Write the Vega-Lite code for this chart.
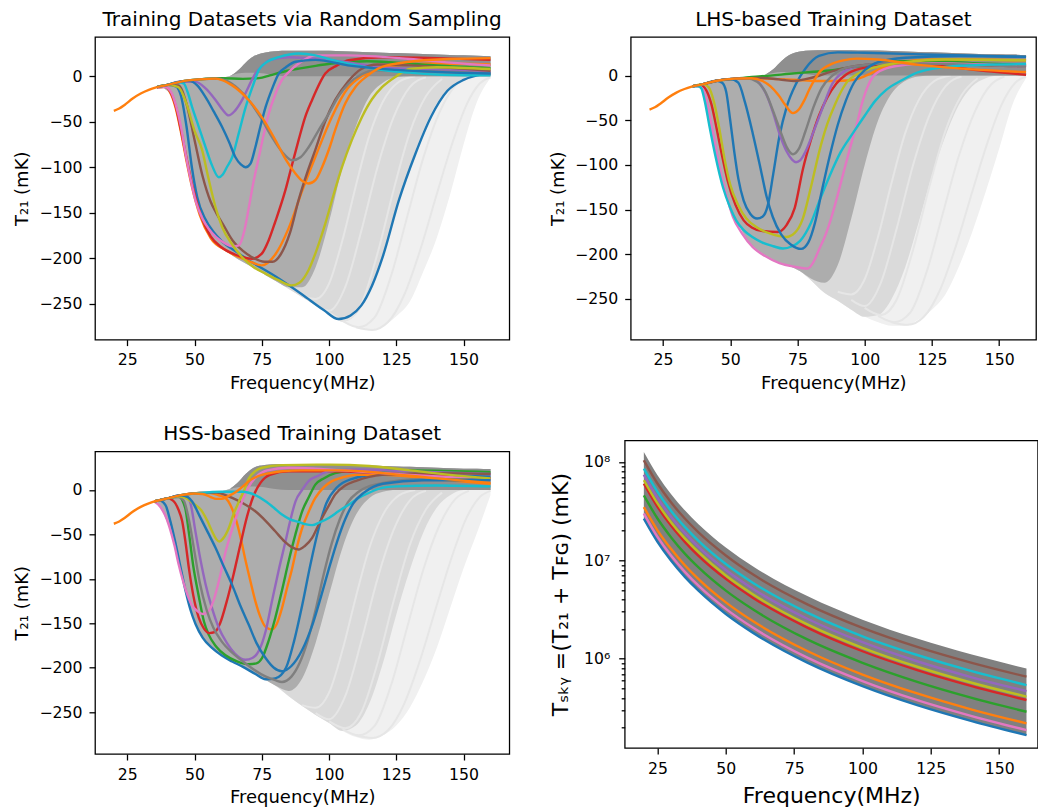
{
"$schema":"https://vega.github.io/schema/vega-lite/v6.json",
"autosize":{"type":"pad"},
"padding":{"left":13,"top":9,"right":0,"bottom":0},
"config":{
"font":"DejaVu Sans",
"view":{"stroke":"black","strokeWidth":1.28},
"axis":{"grid":false,"domain":false,"tickColor":"black","tickWidth":1.28,"tickSize":6,"labelColor":"black","titleColor":"black","labelFont":"DejaVu Sans","titleFont":"DejaVu Sans","labelFontSize":15.7,"titleFontSize":18,"titleFontWeight":"normal","labelPadding":7,"labelFlush":false,"labelOverlap":false},
"axisY":{"titlePadding":7},
"axisX":{"titlePadding":7},
"title":{"font":"DejaVu Sans","fontSize":20,"fontWeight":"normal","color":"black","anchor":"middle","baseline":"bottom","offset":6.6}
},
"datasets":{
"cs":[{"x":20,"y":-38},{"x":22,"y":-35.5},{"x":24,"y":-31.5},{"x":27,"y":-24.5},{"x":30,"y":-19},{"x":33,"y":-15},{"x":36,"y":-12}],
"tl":[
{"s":"a","x":95,"y":-251},{"s":"a","x":100,"y":-258},{"s":"a","x":106,"y":-232},{"s":"a","x":112,"y":-170},{"s":"a","x":118,"y":-100},{"s":"a","x":124,"y":-45},{"s":"a","x":130,"y":-12},{"s":"a","x":136,"y":-1},
{"s":"b","x":100,"y":-260},{"s":"b","x":106,"y":-268},{"s":"b","x":112,"y":-250},{"s":"b","x":118,"y":-195},{"s":"b","x":124,"y":-125},{"s":"b","x":130,"y":-62},{"s":"b","x":136,"y":-22},{"s":"b","x":142,"y":-3},
{"s":"c","x":105,"y":-269},{"s":"c","x":111,"y":-276},{"s":"c","x":117,"y":-265},{"s":"c","x":123,"y":-220},{"s":"c","x":129,"y":-155},{"s":"c","x":135,"y":-90},{"s":"c","x":141,"y":-40},{"s":"c","x":147,"y":-10},{"s":"c","x":152,"y":-1},
{"s":"d","x":110,"y":-276},{"s":"d","x":116,"y":-279},{"s":"d","x":122,"y":-270},{"s":"d","x":128,"y":-240},{"s":"d","x":134,"y":-190},{"s":"d","x":140,"y":-130},{"s":"d","x":146,"y":-72},{"s":"d","x":151,"y":-32},{"s":"d","x":156,"y":-8},{"s":"d","x":160,"y":-1},
{"s":"e","x":90,"y":-242},{"s":"e","x":95,"y":-245},{"s":"e","x":100,"y":-228},{"s":"e","x":105,"y":-180},{"s":"e","x":110,"y":-120},{"s":"e","x":115,"y":-65},{"s":"e","x":120,"y":-28},{"s":"e","x":126,"y":-6},{"s":"e","x":132,"y":0}],
"e1":[
{"x":37,"L":-11.3,"M":-11.3,"D":-11.3,"B":-11.3,"U":-11.3},{"x":39,"L":-14,"M":-14,"D":-14,"B":-9.8,"U":-9.8},{"x":41,"L":-20,"M":-20,"D":-20,"B":-8.3,"U":-8.3},{"x":43,"L":-35,"M":-35,"D":-35,"B":-7,"U":-7},{"x":45,"L":-63,"M":-63,"D":-63,"B":-5.8,"U":-5.8},{"x":47,"L":-93,"M":-93,"D":-93,"B":-4.9,"U":-4.9},{"x":49,"L":-121,"M":-121,"D":-121,"B":-4.2,"U":-4.2},{"x":51,"L":-142,"M":-142,"D":-142,"B":-3.6,"U":-3.6},{"x":53,"L":-158,"M":-158,"D":-158,"B":-3.1,"U":-3.1},{"x":56,"L":-178,"M":-178,"D":-178,"B":-2.5,"U":-2.5},{"x":60,"L":-189,"M":-189,"D":-189,"B":-1.5,"U":-1.5},{"x":63,"L":-195,"M":-195,"D":-195,"B":0,"U":0},{"x":66,"L":-201,"M":-201,"D":-201,"B":3,"U":6},{"x":69,"L":-206,"M":-206,"D":-206,"B":4,"U":15},{"x":72,"L":-211,"M":-211,"D":-211,"B":4,"U":22},{"x":76,"L":-218,"M":-218,"D":-218,"B":3,"U":26},{"x":80,"L":-225,"M":-225,"D":-225,"B":1,"U":27.5},{"x":85,"L":-234,"M":-234,"D":-232,"B":0,"U":28},{"x":90,"L":-243,"M":-243,"D":-232,"B":0,"U":28},{"x":95,"L":-252,"M":-252,"D":-210,"B":0,"U":28},{"x":100,"L":-261,"M":-261,"D":-160,"B":0,"U":28},{"x":105,"L":-270,"M":-270,"D":-100,"B":0,"U":27.5},{"x":110,"L":-276,"M":-262,"D":-55,"B":0,"U":27},{"x":115,"L":-279,"M":-238,"D":-22,"B":0,"U":26.5},{"x":120,"L":-275,"M":-198,"D":-7,"B":0,"U":26},{"x":125,"L":-264,"M":-145,"D":-1,"B":0,"U":25.5},{"x":130,"L":-248,"M":-100,"D":0,"B":0,"U":25},{"x":135,"L":-215,"M":-60,"D":0,"B":0,"U":24.5},{"x":140,"L":-178,"M":-30,"D":0,"B":0,"U":24},{"x":145,"L":-130,"M":-12,"D":0,"B":0,"U":23.5},{"x":150,"L":-75,"M":-4,"D":0,"B":0,"U":23},{"x":155,"L":-28,"M":0,"D":0,"B":0,"U":22.5},{"x":160,"L":-2,"M":0,"D":0,"B":0,"U":22}],
"e2":[
{"x":37,"L":-11.3,"M":-11.3,"D":-11.3,"B":-11.3,"U":-11.3},{"x":39,"L":-14,"M":-14,"D":-14,"B":-9.8,"U":-9.8},{"x":41,"L":-38,"M":-38,"D":-38,"B":-8.3,"U":-8.3},{"x":43,"L":-65,"M":-65,"D":-65,"B":-7,"U":-7},{"x":45,"L":-96,"M":-96,"D":-96,"B":-5.8,"U":-5.8},{"x":47,"L":-123,"M":-123,"D":-123,"B":-4.9,"U":-4.9},{"x":49,"L":-141,"M":-141,"D":-141,"B":-4.2,"U":-4.2},{"x":51,"L":-155,"M":-155,"D":-155,"B":-3.6,"U":-3.6},{"x":53,"L":-166,"M":-166,"D":-166,"B":-3.1,"U":-3.1},{"x":56,"L":-182,"M":-182,"D":-182,"B":-2.5,"U":-2.5},{"x":60,"L":-195,"M":-195,"D":-195,"B":-1.5,"U":-1.5},{"x":63,"L":-201,"M":-201,"D":-201,"B":1,"U":1},{"x":66,"L":-206,"M":-206,"D":-206,"B":3,"U":7},{"x":69,"L":-210,"M":-210,"D":-210,"B":4,"U":16},{"x":72,"L":-213,"M":-213,"D":-213,"B":4,"U":23},{"x":76,"L":-219,"M":-219,"D":-219,"B":3,"U":27},{"x":80,"L":-229,"M":-229,"D":-227,"B":1,"U":28},{"x":85,"L":-243,"M":-243,"D":-232,"B":0,"U":28.5},{"x":90,"L":-252,"M":-252,"D":-212,"B":0,"U":28.5},{"x":95,"L":-262,"M":-262,"D":-160,"B":0,"U":28.5},{"x":100,"L":-270,"M":-270,"D":-100,"B":0,"U":28},{"x":105,"L":-276,"M":-268,"D":-50,"B":0,"U":28},{"x":110,"L":-280,"M":-250,"D":-20,"B":0,"U":27.5},{"x":115,"L":-280,"M":-215,"D":-6,"B":0,"U":27},{"x":120,"L":-273,"M":-165,"D":-1,"B":0,"U":26.5},{"x":125,"L":-262,"M":-112,"D":0,"B":0,"U":26},{"x":130,"L":-245,"M":-68,"D":0,"B":0,"U":25.5},{"x":135,"L":-214,"M":-33,"D":0,"B":0,"U":25},{"x":140,"L":-175,"M":-12,"D":0,"B":0,"U":24.5},{"x":145,"L":-130,"M":-3,"D":0,"B":0,"U":24},{"x":150,"L":-82,"M":0,"D":0,"B":0,"U":24},{"x":155,"L":-32,"M":0,"D":0,"B":0,"U":23.5},{"x":160,"L":-3,"M":0,"D":0,"B":0,"U":23}],
"e3":[
{"x":35,"L":-13,"M":-13,"D":-13,"B":-13,"U":-13},{"x":37,"L":-18,"M":-18,"D":-18,"B":-11.3,"U":-11.3},{"x":39,"L":-30,"M":-30,"D":-30,"B":-9.8,"U":-9.8},{"x":41,"L":-46,"M":-46,"D":-46,"B":-8.3,"U":-8.3},{"x":43,"L":-68,"M":-68,"D":-68,"B":-7,"U":-7},{"x":45,"L":-95,"M":-95,"D":-95,"B":-5.8,"U":-5.8},{"x":47,"L":-120,"M":-120,"D":-120,"B":-4.9,"U":-4.9},{"x":49,"L":-139,"M":-139,"D":-139,"B":-4.2,"U":-4.2},{"x":51,"L":-154,"M":-154,"D":-154,"B":-3.6,"U":-3.6},{"x":53,"L":-166,"M":-166,"D":-166,"B":-3.1,"U":-3.1},{"x":56,"L":-177,"M":-177,"D":-177,"B":-2.5,"U":-2.5},{"x":60,"L":-186,"M":-186,"D":-186,"B":-1.5,"U":-1.5},{"x":63,"L":-191,"M":-191,"D":-191,"B":1,"U":1},{"x":66,"L":-196,"M":-196,"D":-196,"B":3,"U":8},{"x":69,"L":-201,"M":-201,"D":-201,"B":4,"U":18},{"x":72,"L":-206,"M":-206,"D":-206,"B":4,"U":25},{"x":76,"L":-213,"M":-213,"D":-213,"B":3,"U":28},{"x":80,"L":-220,"M":-220,"D":-220,"B":1,"U":29},{"x":85,"L":-232,"M":-232,"D":-226,"B":0,"U":29},{"x":90,"L":-243,"M":-243,"D":-212,"B":0,"U":29},{"x":95,"L":-253,"M":-253,"D":-172,"B":0,"U":29},{"x":100,"L":-262,"M":-262,"D":-118,"B":0,"U":28.5},{"x":105,"L":-271,"M":-271,"D":-65,"B":0,"U":28.5},{"x":110,"L":-278,"M":-265,"D":-28,"B":0,"U":28},{"x":115,"L":-281,"M":-240,"D":-9,"B":0,"U":27.5},{"x":120,"L":-276,"M":-195,"D":-2,"B":0,"U":27},{"x":125,"L":-265,"M":-140,"D":0,"B":0,"U":26.5},{"x":130,"L":-245,"M":-90,"D":0,"B":0,"U":26},{"x":135,"L":-215,"M":-48,"D":0,"B":0,"U":25.5},{"x":140,"L":-178,"M":-20,"D":0,"B":0,"U":25},{"x":145,"L":-133,"M":-6,"D":0,"B":0,"U":24.5},{"x":150,"L":-88,"M":0,"D":0,"B":0,"U":24},{"x":155,"L":-48,"M":0,"D":0,"B":0,"U":24},{"x":160,"L":-6,"M":0,"D":0,"B":0,"U":23.5}],
"c1":[
{"s":"a","x":36,"y":-12},{"s":"a","x":40,"y":-9.5},{"s":"a","x":43,"y":-11},{"s":"a","x":45,"y":-22},{"s":"a","x":47,"y":-55},{"s":"a","x":49,"y":-100},{"s":"a","x":51,"y":-133},{"s":"a","x":54,"y":-157},{"s":"a","x":57,"y":-171},{"s":"a","x":60,"y":-181},{"s":"a","x":65,"y":-192},{"s":"a","x":70,"y":-202},{"s":"a","x":80,"y":-220},{"s":"a","x":90,"y":-240},{"s":"a","x":98,"y":-257},{"s":"a","x":103.5,"y":-267},{"s":"a","x":108,"y":-263},{"s":"a","x":112,"y":-252},{"s":"a","x":116,"y":-230},{"s":"a","x":120,"y":-198},{"s":"a","x":126,"y":-136},{"s":"a","x":132,"y":-86},{"s":"a","x":138,"y":-44},{"s":"a","x":144,"y":-16},{"s":"a","x":150,"y":-4},{"s":"a","x":155,"y":1},{"s":"a","x":160,"y":3},
{"s":"b","x":36,"y":-12},{"s":"b","x":39,"y":-11.5},{"s":"b","x":41,"y":-18},{"s":"b","x":43,"y":-35},{"s":"b","x":45,"y":-62},{"s":"b","x":47,"y":-93},{"s":"b","x":49,"y":-121},{"s":"b","x":52,"y":-153},{"s":"b","x":56,"y":-178},{"s":"b","x":62,"y":-192},{"s":"b","x":70,"y":-203},{"s":"b","x":75,"y":-208},{"s":"b","x":80,"y":-196},{"s":"b","x":85,"y":-167},{"s":"b","x":90,"y":-126},{"s":"b","x":95,"y":-88},{"s":"b","x":101,"y":-45},{"s":"b","x":107,"y":-13},{"s":"b","x":112,"y":0},{"s":"b","x":117,"y":7},{"s":"b","x":125,"y":12},{"s":"b","x":140,"y":14},{"s":"b","x":160,"y":13},
{"s":"c","x":36,"y":-12},{"s":"c","x":40,"y":-9.5},{"s":"c","x":45,"y":-5.8},{"s":"c","x":52,"y":-3.4},{"s":"c","x":60,"y":-2.2},{"s":"c","x":68,"y":-2.8},{"s":"c","x":74,"y":-2},{"s":"c","x":78,"y":1},{"s":"c","x":83,"y":5},{"s":"c","x":88.7,"y":8.4},{"s":"c","x":95,"y":11.5},{"s":"c","x":101,"y":14},{"s":"c","x":108,"y":16},{"s":"c","x":114,"y":16.5},{"s":"c","x":125,"y":15},{"s":"c","x":140,"y":12},{"s":"c","x":160,"y":9},
{"s":"d","x":36,"y":-12},{"s":"d","x":39,"y":-11.5},{"s":"d","x":41,"y":-17},{"s":"d","x":43,"y":-33},{"s":"d","x":45,"y":-60},{"s":"d","x":47,"y":-90},{"s":"d","x":49,"y":-118},{"s":"d","x":52,"y":-150},{"s":"d","x":56,"y":-176},{"s":"d","x":60,"y":-188},{"s":"d","x":65,"y":-196},{"s":"d","x":71.4,"y":-200.6},{"s":"d","x":75,"y":-195},{"s":"d","x":77.6,"y":-180},{"s":"d","x":80,"y":-160},{"s":"d","x":83.8,"y":-125},{"s":"d","x":86,"y":-100},{"s":"d","x":88.7,"y":-70},{"s":"d","x":91,"y":-46},{"s":"d","x":93.7,"y":-26},{"s":"d","x":98.6,"y":3},{"s":"d","x":103,"y":12},{"s":"d","x":107.3,"y":17.6},{"s":"d","x":119.7,"y":21},{"s":"d","x":140,"y":20},{"s":"d","x":160,"y":18},
{"s":"e","x":36,"y":-12},{"s":"e","x":40,"y":-9.5},{"s":"e","x":45,"y":-5.8},{"s":"e","x":50.4,"y":-6.2},{"s":"e","x":54,"y":-13},{"s":"e","x":57.8,"y":-26},{"s":"e","x":60.5,"y":-37},{"s":"e","x":62.7,"y":-43},{"s":"e","x":65,"y":-38},{"s":"e","x":67.7,"y":-26},{"s":"e","x":70,"y":-12},{"s":"e","x":72.6,"y":3},{"s":"e","x":75,"y":11},{"s":"e","x":77.6,"y":17.6},{"s":"e","x":85,"y":21},{"s":"e","x":101,"y":17.6},{"s":"e","x":119.7,"y":10},{"s":"e","x":140,"y":7},{"s":"e","x":160,"y":5},
{"s":"f","x":36,"y":-12},{"s":"f","x":40,"y":-9.5},{"s":"f","x":44,"y":-10},{"s":"f","x":47,"y":-30},{"s":"f","x":50,"y":-70},{"s":"f","x":53,"y":-110},{"s":"f","x":56,"y":-138},{"s":"f","x":58,"y":-150},{"s":"f","x":61,"y":-165},{"s":"f","x":64,"y":-180},{"s":"f","x":68,"y":-192},{"s":"f","x":72,"y":-200},{"s":"f","x":76,"y":-204},{"s":"f","x":79,"y":-204},{"s":"f","x":82,"y":-196},{"s":"f","x":85.5,"y":-172},{"s":"f","x":88.7,"y":-136},{"s":"f","x":92,"y":-105},{"s":"f","x":94.9,"y":-81},{"s":"f","x":98.5,"y":-50},{"s":"f","x":102.3,"y":-26},{"s":"f","x":107,"y":-6},{"s":"f","x":112,"y":8},{"s":"f","x":118,"y":13},{"s":"f","x":130,"y":12},{"s":"f","x":160,"y":6},
{"s":"g","x":36,"y":-12},{"s":"g","x":39,"y":-11.5},{"s":"g","x":41,"y":-16},{"s":"g","x":43,"y":-31},{"s":"g","x":45,"y":-56},{"s":"g","x":46.7,"y":-86},{"s":"g","x":48.5,"y":-113},{"s":"g","x":50.4,"y":-137},{"s":"g","x":53,"y":-157},{"s":"g","x":55.3,"y":-168},{"s":"g","x":58,"y":-177},{"s":"g","x":61.5,"y":-184},{"s":"g","x":64,"y":-187},{"s":"g","x":66.5,"y":-186},{"s":"g","x":68.5,"y":-170},{"s":"g","x":70.2,"y":-144},{"s":"g","x":72,"y":-115},{"s":"g","x":73.9,"y":-89},{"s":"g","x":75.8,"y":-63},{"s":"g","x":77.6,"y":-41},{"s":"g","x":80,"y":-20},{"s":"g","x":82.5,"y":-4},{"s":"g","x":85.5,"y":6},{"s":"g","x":88.7,"y":14},{"s":"g","x":94.9,"y":23},{"s":"g","x":107,"y":23},{"s":"g","x":130,"y":19},{"s":"g","x":145,"y":15},{"s":"g","x":160,"y":12},
{"s":"h","x":36,"y":-12},{"s":"h","x":40,"y":-9.5},{"s":"h","x":45,"y":-5.8},{"s":"h","x":52,"y":-3.4},{"s":"h","x":58,"y":-2.5},{"s":"h","x":61.5,"y":-4.4},{"s":"h","x":66,"y":-13},{"s":"h","x":70.2,"y":-26.4},{"s":"h","x":74.5,"y":-45},{"s":"h","x":78.8,"y":-67},{"s":"h","x":82.5,"y":-83},{"s":"h","x":86.3,"y":-92.4},{"s":"h","x":89.4,"y":-89},{"s":"h","x":92.4,"y":-78},{"s":"h","x":96,"y":-60},{"s":"h","x":99.9,"y":-41},{"s":"h","x":103.5,"y":-22},{"s":"h","x":107.3,"y":-8},{"s":"h","x":112,"y":2},{"s":"h","x":117.2,"y":6.6},{"s":"h","x":130,"y":6},{"s":"h","x":160,"y":3},
{"s":"i","x":36,"y":-12},{"s":"i","x":40,"y":-9.5},{"s":"i","x":44,"y":-12},{"s":"i","x":47,"y":-30},{"s":"i","x":50,"y":-60},{"s":"i","x":52.8,"y":-81},{"s":"i","x":55,"y":-110},{"s":"i","x":57.8,"y":-144},{"s":"i","x":60.3,"y":-166},{"s":"i","x":64,"y":-185},{"s":"i","x":67.7,"y":-199},{"s":"i","x":72,"y":-210},{"s":"i","x":76.4,"y":-217},{"s":"i","x":81,"y":-224},{"s":"i","x":86,"y":-230},{"s":"i","x":89,"y":-227},{"s":"i","x":92.4,"y":-213},{"s":"i","x":95.5,"y":-190},{"s":"i","x":98.6,"y":-162},{"s":"i","x":101.7,"y":-130},{"s":"i","x":104.8,"y":-100},{"s":"i","x":108.5,"y":-70},{"s":"i","x":112.2,"y":-45},{"s":"i","x":116,"y":-25},{"s":"i","x":119.7,"y":-12},{"s":"i","x":125,"y":0},{"s":"i","x":130,"y":8},{"s":"i","x":140,"y":10},{"s":"i","x":160,"y":8},
{"s":"j","x":36,"y":-12},{"s":"j","x":40,"y":-9.5},{"s":"j","x":44,"y":-6.5},{"s":"j","x":46,"y":-8},{"s":"j","x":47.5,"y":-18},{"s":"j","x":49.1,"y":-34},{"s":"j","x":51.5,"y":-55},{"s":"j","x":54.1,"y":-78},{"s":"j","x":56.5,"y":-98},{"s":"j","x":59,"y":-111},{"s":"j","x":60.5,"y":-108},{"s":"j","x":62,"y":-100},{"s":"j","x":64,"y":-89},{"s":"j","x":66.5,"y":-62},{"s":"j","x":69,"y":-34},{"s":"j","x":71.5,"y":-12},{"s":"j","x":73.9,"y":7},{"s":"j","x":77,"y":16},{"s":"j","x":81.3,"y":21},{"s":"j","x":88.7,"y":25},{"s":"j","x":95,"y":23},{"s":"j","x":101,"y":18},{"s":"j","x":107,"y":14},{"s":"j","x":113.5,"y":10},{"s":"j","x":122,"y":6},{"s":"j","x":130,"y":4},{"s":"j","x":140,"y":2},{"s":"j","x":160,"y":1},
{"s":"k","x":36,"y":-12},{"s":"k","x":40,"y":-9.5},{"s":"k","x":45,"y":-5.8},{"s":"k","x":48,"y":-5},{"s":"k","x":51,"y":-10},{"s":"k","x":54.1,"y":-23},{"s":"k","x":57,"y":-38},{"s":"k","x":60.3,"y":-56},{"s":"k","x":62.8,"y":-72},{"s":"k","x":65.2,"y":-89},{"s":"k","x":67.2,"y":-97},{"s":"k","x":69,"y":-100},{"s":"k","x":70.8,"y":-96},{"s":"k","x":72.6,"y":-78},{"s":"k","x":74.5,"y":-55},{"s":"k","x":76.4,"y":-34},{"s":"k","x":78.8,"y":-14},{"s":"k","x":81.3,"y":3},{"s":"k","x":84,"y":10},{"s":"k","x":87.5,"y":16},{"s":"k","x":94.9,"y":18},{"s":"k","x":107,"y":12},{"s":"k","x":125,"y":7},{"s":"k","x":160,"y":3},
{"s":"l","x":36,"y":-12},{"s":"l","x":40,"y":-9.5},{"s":"l","x":45,"y":-5.8},{"s":"l","x":52,"y":-3.4},{"s":"l","x":57.8,"y":-2.6},{"s":"l","x":64,"y":-10},{"s":"l","x":70.2,"y":-26.4},{"s":"l","x":75,"y":-45},{"s":"l","x":80.1,"y":-70.4},{"s":"l","x":84,"y":-92},{"s":"l","x":87.5,"y":-107},{"s":"l","x":90,"y":-115},{"s":"l","x":92.4,"y":-118},{"s":"l","x":95,"y":-114},{"s":"l","x":97.4,"y":-100},{"s":"l","x":100,"y":-80},{"s":"l","x":102.3,"y":-59},{"s":"l","x":106,"y":-30},{"s":"l","x":109.8,"y":-11.7},{"s":"l","x":114,"y":0},{"s":"l","x":119.7,"y":10.3},{"s":"l","x":130,"y":16},{"s":"l","x":145,"y":19},{"s":"l","x":160,"y":20}],
"c2":[
{"s":"a","x":36,"y":-12},{"s":"a","x":40,"y":-9.5},{"s":"a","x":45,"y":-5.8},{"s":"a","x":47,"y":-8},{"s":"a","x":48.5,"y":-18},{"s":"a","x":50,"y":-50},{"s":"a","x":51.5,"y":-85},{"s":"a","x":53,"y":-115},{"s":"a","x":55,"y":-140},{"s":"a","x":57.5,"y":-155},{"s":"a","x":60,"y":-160},{"s":"a","x":62,"y":-158},{"s":"a","x":64,"y":-145},{"s":"a","x":66,"y":-110},{"s":"a","x":68.3,"y":-68},{"s":"a","x":71,"y":-35},{"s":"a","x":74.5,"y":-9},{"s":"a","x":78,"y":8},{"s":"a","x":83,"y":22},{"s":"a","x":90,"y":26},{"s":"a","x":100,"y":25.5},{"s":"a","x":130,"y":23},{"s":"a","x":160,"y":21},
{"s":"b","x":36,"y":-12},{"s":"b","x":40,"y":-9.5},{"s":"b","x":45,"y":-5.8},{"s":"b","x":52,"y":-3.4},{"s":"b","x":60,"y":-3},{"s":"b","x":68,"y":-4},{"s":"b","x":75,"y":-5},{"s":"b","x":82,"y":-6},{"s":"b","x":88,"y":-6},{"s":"b","x":94,"y":-5.5},{"s":"b","x":98,"y":-3},{"s":"b","x":102,"y":2},{"s":"b","x":106,"y":8},{"s":"b","x":110,"y":13},{"s":"b","x":116,"y":16},{"s":"b","x":125,"y":18},{"s":"b","x":140,"y":18},{"s":"b","x":160,"y":17},
{"s":"c","x":36,"y":-12},{"s":"c","x":40,"y":-9.5},{"s":"c","x":45,"y":-5.8},{"s":"c","x":52,"y":-3.4},{"s":"c","x":58,"y":-1.5},{"s":"c","x":65,"y":0},{"s":"c","x":72,"y":2},{"s":"c","x":80,"y":4},{"s":"c","x":88,"y":6},{"s":"c","x":95,"y":9},{"s":"c","x":102,"y":12},{"s":"c","x":108,"y":15},{"s":"c","x":115,"y":16},{"s":"c","x":125,"y":16},{"s":"c","x":140,"y":14},{"s":"c","x":160,"y":12},
{"s":"d","x":36,"y":-12},{"s":"d","x":39,"y":-11},{"s":"d","x":41,"y":-16},{"s":"d","x":43,"y":-32},{"s":"d","x":45,"y":-60},{"s":"d","x":47,"y":-90},{"s":"d","x":49,"y":-117},{"s":"d","x":52,"y":-145},{"s":"d","x":55,"y":-162},{"s":"d","x":58,"y":-170},{"s":"d","x":62,"y":-174},{"s":"d","x":67.7,"y":-175},{"s":"d","x":71,"y":-167},{"s":"d","x":74,"y":-148},{"s":"d","x":77,"y":-105},{"s":"d","x":80,"y":-72},{"s":"d","x":83,"y":-45},{"s":"d","x":86,"y":-25},{"s":"d","x":89.4,"y":-9},{"s":"d","x":93,"y":1},{"s":"d","x":100,"y":9},{"s":"d","x":110,"y":14},{"s":"d","x":125,"y":12},{"s":"d","x":145,"y":5},{"s":"d","x":160,"y":1},
{"s":"e","x":36,"y":-12},{"s":"e","x":40,"y":-9.5},{"s":"e","x":45,"y":-5.8},{"s":"e","x":52,"y":-3.4},{"s":"e","x":58,"y":-3},{"s":"e","x":61,"y":-9},{"s":"e","x":64,"y":-25},{"s":"e","x":66,"y":-42},{"s":"e","x":68.3,"y":-65},{"s":"e","x":71,"y":-85},{"s":"e","x":73,"y":-94},{"s":"e","x":74.5,"y":-97},{"s":"e","x":76,"y":-95},{"s":"e","x":78,"y":-85},{"s":"e","x":80.7,"y":-65},{"s":"e","x":84.5,"y":-35},{"s":"e","x":88,"y":-9},{"s":"e","x":92,"y":4},{"s":"e","x":98,"y":11},{"s":"e","x":110,"y":14},{"s":"e","x":160,"y":11},
{"s":"f","x":36,"y":-12},{"s":"f","x":40,"y":-9.5},{"s":"f","x":45,"y":-5.8},{"s":"f","x":52,"y":-3.4},{"s":"f","x":60,"y":-2.5},{"s":"f","x":66,"y":-3.5},{"s":"f","x":70,"y":-5},{"s":"f","x":74,"y":-6},{"s":"f","x":78,"y":-4},{"s":"f","x":82,"y":-1},{"s":"f","x":86,"y":3},{"s":"f","x":92,"y":8},{"s":"f","x":100,"y":12},{"s":"f","x":115,"y":14},{"s":"f","x":140,"y":12},{"s":"f","x":160,"y":10},
{"s":"g","x":36,"y":-12},{"s":"g","x":38,"y":-12},{"s":"g","x":40,"y":-16},{"s":"g","x":41.1,"y":-27},{"s":"g","x":43.5,"y":-62},{"s":"g","x":46,"y":-102},{"s":"g","x":48.5,"y":-133},{"s":"g","x":51,"y":-158},{"s":"g","x":54.5,"y":-177},{"s":"g","x":58.4,"y":-192},{"s":"g","x":63,"y":-202},{"s":"g","x":68.3,"y":-210},{"s":"g","x":74,"y":-214},{"s":"g","x":78.8,"y":-216},{"s":"g","x":80.7,"y":-210},{"s":"g","x":83,"y":-195},{"s":"g","x":85.6,"y":-177},{"s":"g","x":87.5,"y":-160},{"s":"g","x":89.4,"y":-140},{"s":"g","x":92,"y":-110},{"s":"g","x":94.3,"y":-84},{"s":"g","x":97,"y":-55},{"s":"g","x":99.3,"y":-28},{"s":"g","x":101,"y":-13},{"s":"g","x":103,"y":-1.5},{"s":"g","x":107,"y":7},{"s":"g","x":115,"y":12},{"s":"g","x":125,"y":14},{"s":"g","x":160,"y":10},
{"s":"h","x":36,"y":-12},{"s":"h","x":40,"y":-9.5},{"s":"h","x":45,"y":-5.8},{"s":"h","x":52,"y":-3.4},{"s":"h","x":56,"y":-3},{"s":"h","x":60,"y":-7},{"s":"h","x":63,"y":-18},{"s":"h","x":66,"y":-40},{"s":"h","x":69,"y":-65},{"s":"h","x":71,"y":-80},{"s":"h","x":73.3,"y":-88},{"s":"h","x":75.5,"y":-82},{"s":"h","x":78,"y":-62},{"s":"h","x":81,"y":-35},{"s":"h","x":84,"y":-14},{"s":"h","x":88,"y":0},{"s":"h","x":95,"y":10},{"s":"h","x":110,"y":14},{"s":"h","x":160,"y":10},
{"s":"i","x":36,"y":-12},{"s":"i","x":40,"y":-9.5},{"s":"i","x":42,"y":-13},{"s":"i","x":44,"y":-30},{"s":"i","x":46,"y":-60},{"s":"i","x":48,"y":-95},{"s":"i","x":50,"y":-122},{"s":"i","x":53,"y":-145},{"s":"i","x":56,"y":-160},{"s":"i","x":60,"y":-170},{"s":"i","x":65,"y":-177},{"s":"i","x":70.8,"y":-180.6},{"s":"i","x":74,"y":-176},{"s":"i","x":77,"y":-160},{"s":"i","x":80,"y":-125},{"s":"i","x":83.2,"y":-84},{"s":"i","x":86,"y":-55},{"s":"i","x":89,"y":-32},{"s":"i","x":93,"y":-9},{"s":"i","x":98,"y":3},{"s":"i","x":105,"y":10},{"s":"i","x":115,"y":15},{"s":"i","x":130,"y":18},{"s":"i","x":160,"y":17},
{"s":"j","x":36,"y":-12},{"s":"j","x":38,"y":-12},{"s":"j","x":39.2,"y":-14},{"s":"j","x":40.5,"y":-28},{"s":"j","x":42.3,"y":-57},{"s":"j","x":44.5,"y":-90},{"s":"j","x":47.3,"y":-125},{"s":"j","x":50,"y":-148},{"s":"j","x":52.2,"y":-162},{"s":"j","x":55,"y":-173},{"s":"j","x":58.4,"y":-181},{"s":"j","x":62,"y":-187},{"s":"j","x":66,"y":-191},{"s":"j","x":69.6,"y":-193.6},{"s":"j","x":73,"y":-191},{"s":"j","x":76,"y":-185},{"s":"j","x":80,"y":-165},{"s":"j","x":83.2,"y":-140},{"s":"j","x":87,"y":-112},{"s":"j","x":91,"y":-86},{"s":"j","x":95.5,"y":-65},{"s":"j","x":100,"y":-45},{"s":"j","x":104,"y":-28},{"s":"j","x":108,"y":-16},{"s":"j","x":114,"y":-5},{"s":"j","x":120,"y":4},{"s":"j","x":135,"y":11},{"s":"j","x":160,"y":13},
{"s":"k","x":36,"y":-12},{"s":"k","x":40,"y":-9.5},{"s":"k","x":45,"y":-5.8},{"s":"k","x":50,"y":-3.8},{"s":"k","x":53,"y":-8},{"s":"k","x":55.5,"y":-30},{"s":"k","x":58.4,"y":-65},{"s":"k","x":61,"y":-100},{"s":"k","x":63.5,"y":-135},{"s":"k","x":65.8,"y":-158},{"s":"k","x":69,"y":-178},{"s":"k","x":72.5,"y":-189},{"s":"k","x":76.4,"y":-194},{"s":"k","x":79,"y":-187},{"s":"k","x":81.5,"y":-165},{"s":"k","x":84,"y":-130},{"s":"k","x":87,"y":-90},{"s":"k","x":90,"y":-55},{"s":"k","x":93,"y":-28},{"s":"k","x":96,"y":-8},{"s":"k","x":100,"y":6},{"s":"k","x":105,"y":15},{"s":"k","x":115,"y":20},{"s":"k","x":135,"y":22},{"s":"k","x":160,"y":21},
{"s":"l","x":36,"y":-12},{"s":"l","x":40,"y":-9.5},{"s":"l","x":45,"y":-5.8},{"s":"l","x":52,"y":-3.4},{"s":"l","x":58,"y":-3},{"s":"l","x":62,"y":-6},{"s":"l","x":65,"y":-12},{"s":"l","x":68,"y":-22},{"s":"l","x":70.5,"y":-33},{"s":"l","x":73.3,"y":-42},{"s":"l","x":75.5,"y":-38},{"s":"l","x":77.5,"y":-28},{"s":"l","x":79.5,"y":-15},{"s":"l","x":81.5,"y":-4},{"s":"l","x":83.5,"y":5},{"s":"l","x":87,"y":12},{"s":"l","x":92,"y":17},{"s":"l","x":97,"y":19},{"s":"l","x":105,"y":18},{"s":"l","x":120,"y":12},{"s":"l","x":140,"y":7},{"s":"l","x":160,"y":4}],
"c3":[
{"s":"a","x":35,"y":-13},{"s":"a","x":37,"y":-12},{"s":"a","x":39.2,"y":-17},{"s":"a","x":41,"y":-35},{"s":"a","x":43,"y":-61},{"s":"a","x":45,"y":-90},{"s":"a","x":46.7,"y":-114},{"s":"a","x":48.5,"y":-135},{"s":"a","x":50.4,"y":-151},{"s":"a","x":53,"y":-166},{"s":"a","x":56.6,"y":-178},{"s":"a","x":60,"y":-186},{"s":"a","x":64,"y":-193},{"s":"a","x":68,"y":-199},{"s":"a","x":72.6,"y":-207},{"s":"a","x":76.4,"y":-213},{"s":"a","x":80,"y":-212},{"s":"a","x":84,"y":-200},{"s":"a","x":87,"y":-170},{"s":"a","x":90,"y":-130},{"s":"a","x":93,"y":-85},{"s":"a","x":96,"y":-45},{"s":"a","x":99,"y":-15},{"s":"a","x":103,"y":3},{"s":"a","x":108,"y":12},{"s":"a","x":120,"y":18},{"s":"a","x":140,"y":17},{"s":"a","x":160,"y":15},
{"s":"b","x":35,"y":-13},{"s":"b","x":40,"y":-9.5},{"s":"b","x":45,"y":-5.8},{"s":"b","x":52,"y":-3.4},{"s":"b","x":56,"y":-3.5},{"s":"b","x":59,"y":-6},{"s":"b","x":61.5,"y":-9},{"s":"b","x":63.5,"y":-18},{"s":"b","x":65.2,"y":-31.5},{"s":"b","x":67,"y":-52},{"s":"b","x":69,"y":-80},{"s":"b","x":70.8,"y":-103},{"s":"b","x":72.6,"y":-125},{"s":"b","x":74.5,"y":-143},{"s":"b","x":76.4,"y":-154},{"s":"b","x":78.8,"y":-157},{"s":"b","x":80.5,"y":-151},{"s":"b","x":82.5,"y":-133},{"s":"b","x":84.4,"y":-110},{"s":"b","x":86.3,"y":-88},{"s":"b","x":88,"y":-65},{"s":"b","x":90,"y":-43},{"s":"b","x":92.5,"y":-24},{"s":"b","x":94.9,"y":-9},{"s":"b","x":98,"y":3},{"s":"b","x":101.1,"y":10},{"s":"b","x":105,"y":14},{"s":"b","x":109.8,"y":17},{"s":"b","x":120,"y":17},{"s":"b","x":140,"y":12},{"s":"b","x":160,"y":7},
{"s":"c","x":35,"y":-13},{"s":"c","x":40,"y":-9.5},{"s":"c","x":44,"y":-7},{"s":"c","x":46.5,"y":-20},{"s":"c","x":47.9,"y":-48},{"s":"c","x":49.5,"y":-85},{"s":"c","x":51.6,"y":-120},{"s":"c","x":53.5,"y":-148},{"s":"c","x":55.3,"y":-163},{"s":"c","x":58,"y":-176},{"s":"c","x":61.5,"y":-186},{"s":"c","x":66,"y":-193},{"s":"c","x":70.2,"y":-196},{"s":"c","x":73,"y":-195},{"s":"c","x":75.1,"y":-189},{"s":"c","x":77.5,"y":-170},{"s":"c","x":80,"y":-144},{"s":"c","x":82.5,"y":-113},{"s":"c","x":85,"y":-80},{"s":"c","x":87.5,"y":-50},{"s":"c","x":90,"y":-24},{"s":"c","x":92.5,"y":-8},{"s":"c","x":94.9,"y":6},{"s":"c","x":98,"y":13},{"s":"c","x":102.3,"y":19},{"s":"c","x":110,"y":22},{"s":"c","x":130,"y":22},{"s":"c","x":160,"y":20},
{"s":"d","x":35,"y":-13},{"s":"d","x":37,"y":-11.5},{"s":"d","x":40,"y":-9.5},{"s":"d","x":42,"y":-12},{"s":"d","x":44,"y":-22},{"s":"d","x":45.4,"y":-35},{"s":"d","x":46.7,"y":-60},{"s":"d","x":47.9,"y":-88},{"s":"d","x":49.5,"y":-118},{"s":"d","x":51.6,"y":-144},{"s":"d","x":53.5,"y":-156},{"s":"d","x":55.5,"y":-161},{"s":"d","x":57.5,"y":-160},{"s":"d","x":59.5,"y":-150},{"s":"d","x":62,"y":-125},{"s":"d","x":64.5,"y":-95},{"s":"d","x":67,"y":-62},{"s":"d","x":69.5,"y":-30},{"s":"d","x":72,"y":-6},{"s":"d","x":74.5,"y":8},{"s":"d","x":78,"y":17},{"s":"d","x":85,"y":21},{"s":"d","x":100,"y":21},{"s":"d","x":120,"y":19},{"s":"d","x":140,"y":16},{"s":"d","x":160,"y":13},
{"s":"e","x":35,"y":-13},{"s":"e","x":40,"y":-9.5},{"s":"e","x":45,"y":-5.8},{"s":"e","x":47,"y":-7},{"s":"e","x":48.5,"y":-15},{"s":"e","x":50.4,"y":-48},{"s":"e","x":52.3,"y":-80},{"s":"e","x":54.1,"y":-106},{"s":"e","x":56.5,"y":-133},{"s":"e","x":59,"y":-155},{"s":"e","x":62,"y":-172},{"s":"e","x":65,"y":-184},{"s":"e","x":68.9,"y":-191},{"s":"e","x":71.5,"y":-189},{"s":"e","x":73.9,"y":-181},{"s":"e","x":76.5,"y":-158},{"s":"e","x":78.8,"y":-125},{"s":"e","x":81.3,"y":-90},{"s":"e","x":83.8,"y":-58},{"s":"e","x":85.7,"y":-33},{"s":"e","x":87.5,"y":-13},{"s":"e","x":90,"y":0},{"s":"e","x":92.4,"y":10},{"s":"e","x":96,"y":16},{"s":"e","x":99.9,"y":21},{"s":"e","x":110,"y":23},{"s":"e","x":130,"y":21},{"s":"e","x":160,"y":18},
{"s":"f","x":35,"y":-13},{"s":"f","x":40,"y":-9.5},{"s":"f","x":45,"y":-5.8},{"s":"f","x":52,"y":-3.4},{"s":"f","x":58,"y":-3},{"s":"f","x":64,"y":-9},{"s":"f","x":68,"y":-15},{"s":"f","x":72.6,"y":-24},{"s":"f","x":76.5,"y":-35},{"s":"f","x":80,"y":-46.5},{"s":"f","x":83.5,"y":-58},{"s":"f","x":86,"y":-64},{"s":"f","x":88.7,"y":-67},{"s":"f","x":91,"y":-63},{"s":"f","x":93.7,"y":-54},{"s":"f","x":95.5,"y":-43},{"s":"f","x":97.4,"y":-31.5},{"s":"f","x":100,"y":-17},{"s":"f","x":102.3,"y":-5},{"s":"f","x":106,"y":5},{"s":"f","x":109.8,"y":10},{"s":"f","x":119.7,"y":17},{"s":"f","x":140,"y":19},{"s":"f","x":160,"y":18},
{"s":"g","x":35,"y":-13},{"s":"g","x":37,"y":-18},{"s":"g","x":39,"y":-28},{"s":"g","x":40.5,"y":-40},{"s":"g","x":42.5,"y":-62},{"s":"g","x":44.2,"y":-85},{"s":"g","x":46.7,"y":-112},{"s":"g","x":49.1,"y":-130},{"s":"g","x":51,"y":-136},{"s":"g","x":53,"y":-139.5},{"s":"g","x":55,"y":-137},{"s":"g","x":57,"y":-125},{"s":"g","x":59,"y":-103},{"s":"g","x":61.5,"y":-70},{"s":"g","x":64,"y":-44},{"s":"g","x":67,"y":-18},{"s":"g","x":70,"y":3},{"s":"g","x":73,"y":15},{"s":"g","x":77,"y":22},{"s":"g","x":85,"y":25},{"s":"g","x":95,"y":24},{"s":"g","x":110,"y":21},{"s":"g","x":130,"y":17},{"s":"g","x":160,"y":12},
{"s":"h","x":35,"y":-13},{"s":"h","x":40,"y":-9.5},{"s":"h","x":44,"y":-8},{"s":"h","x":46,"y":-12},{"s":"h","x":48,"y":-35},{"s":"h","x":50,"y":-70},{"s":"h","x":52,"y":-105},{"s":"h","x":54.5,"y":-135},{"s":"h","x":57,"y":-155},{"s":"h","x":60,"y":-170},{"s":"h","x":64,"y":-183},{"s":"h","x":68,"y":-193},{"s":"h","x":72,"y":-202},{"s":"h","x":76.5,"y":-210},{"s":"h","x":80,"y":-214},{"s":"h","x":82.5,"y":-216},{"s":"h","x":86,"y":-210},{"s":"h","x":89,"y":-195},{"s":"h","x":92,"y":-170},{"s":"h","x":95,"y":-135},{"s":"h","x":98,"y":-95},{"s":"h","x":101,"y":-60},{"s":"h","x":104,"y":-33},{"s":"h","x":107,"y":-14},{"s":"h","x":111,"y":-2},{"s":"h","x":117,"y":6},{"s":"h","x":135,"y":12},{"s":"h","x":160,"y":12},
{"s":"i","x":35,"y":-13},{"s":"i","x":40,"y":-9.5},{"s":"i","x":44,"y":-7},{"s":"i","x":46.7,"y":-9},{"s":"i","x":49.5,"y":-15},{"s":"i","x":52.8,"y":-24},{"s":"i","x":54.8,"y":-35},{"s":"i","x":56.6,"y":-47},{"s":"i","x":58,"y":-55},{"s":"i","x":59.2,"y":-58},{"s":"i","x":60.5,"y":-55},{"s":"i","x":62.7,"y":-43},{"s":"i","x":64.5,"y":-27},{"s":"i","x":66.5,"y":-13},{"s":"i","x":68.5,"y":0},{"s":"i","x":70.2,"y":13},{"s":"i","x":72.5,"y":21},{"s":"i","x":75.1,"y":25},{"s":"i","x":82.5,"y":28},{"s":"i","x":100,"y":28.5},{"s":"i","x":115,"y":27},{"s":"i","x":130,"y":22},{"s":"i","x":145,"y":17},{"s":"i","x":160,"y":13},
{"s":"j","x":35,"y":-13},{"s":"j","x":40,"y":-9.5},{"s":"j","x":45,"y":-5.8},{"s":"j","x":52,"y":-3.4},{"s":"j","x":60,"y":-2},{"s":"j","x":68,"y":-2},{"s":"j","x":72,"y":-5},{"s":"j","x":76.4,"y":-12.7},{"s":"j","x":79.5,"y":-20},{"s":"j","x":82.5,"y":-27.7},{"s":"j","x":85.5,"y":-33},{"s":"j","x":88.7,"y":-36},{"s":"j","x":91.2,"y":-38.5},{"s":"j","x":93.7,"y":-39.5},{"s":"j","x":96.5,"y":-36.5},{"s":"j","x":99.9,"y":-31.5},{"s":"j","x":103.5,"y":-24},{"s":"j","x":107.3,"y":-16.5},{"s":"j","x":111,"y":-9},{"s":"j","x":114.7,"y":-3.4},{"s":"j","x":119.7,"y":2.3},{"s":"j","x":125,"y":4},{"s":"j","x":140,"y":5},{"s":"j","x":160,"y":4},
{"s":"k","x":35,"y":-13},{"s":"k","x":40,"y":-9.5},{"s":"k","x":45,"y":-6},{"s":"k","x":47.5,"y":-8},{"s":"k","x":49.1,"y":-13},{"s":"k","x":52,"y":-30},{"s":"k","x":55,"y":-48},{"s":"k","x":57.8,"y":-65},{"s":"k","x":61,"y":-87},{"s":"k","x":64,"y":-107},{"s":"k","x":67,"y":-130},{"s":"k","x":70.2,"y":-152},{"s":"k","x":73,"y":-172},{"s":"k","x":76.4,"y":-189},{"s":"k","x":79.5,"y":-200},{"s":"k","x":82.5,"y":-204},{"s":"k","x":86,"y":-198},{"s":"k","x":90,"y":-180},{"s":"k","x":94,"y":-150},{"s":"k","x":97,"y":-120},{"s":"k","x":100,"y":-88},{"s":"k","x":103,"y":-58},{"s":"k","x":106,"y":-33},{"s":"k","x":109,"y":-15},{"s":"k","x":113,"y":-3},{"s":"k","x":120,"y":7},{"s":"k","x":135,"y":11},{"s":"k","x":160,"y":11},
{"s":"l","x":35,"y":-13},{"s":"l","x":40,"y":-9.5},{"s":"l","x":45,"y":-5.8},{"s":"l","x":50,"y":-4},{"s":"l","x":53,"y":-4.5},{"s":"l","x":56,"y":-8},{"s":"l","x":58,"y":-10},{"s":"l","x":60,"y":-10},{"s":"l","x":62.5,"y":-7},{"s":"l","x":65.5,"y":-2},{"s":"l","x":68,"y":4},{"s":"l","x":70.2,"y":10},{"s":"l","x":74,"y":16},{"s":"l","x":78,"y":19},{"s":"l","x":82.5,"y":21},{"s":"l","x":90,"y":22},{"s":"l","x":105,"y":22},{"s":"l","x":120,"y":19},{"s":"l","x":140,"y":13},{"s":"l","x":160,"y":8}],
"b4":[
{"x":20,"y":2.63e7,"U":1.26e8},{"x":25,"y":1.53e7,"U":7.31e7},{"x":30,"y":9.79e6,"U":4.69e7},{"x":35,"y":6.73e6,"U":3.22e7},{"x":40,"y":4.86e6,"U":2.33e7},{"x":50,"y":2.83e6,"U":1.35e7},{"x":60,"y":1.81e6,"U":8.67e6},{"x":80,"y":8.98e5,"U":4.30e6},{"x":100,"y":5.21e5,"U":2.49e6},{"x":120,"y":3.34e5,"U":1.60e6},{"x":140,"y":2.30e5,"U":1.10e6},{"x":160,"y":1.66e5,"U":7.94e5}],
"c4":[
{"s":"a","x":20,"y":2.65e7},{"s":"a","x":25,"y":1.54e7},{"s":"a","x":30,"y":9.89e6},{"s":"a","x":35,"y":6.79e6},{"s":"a","x":40,"y":4.91e6},{"s":"a","x":50,"y":2.85e6},{"s":"a","x":60,"y":1.83e6},{"s":"a","x":80,"y":9.06e5},{"s":"a","x":100,"y":5.26e5},{"s":"a","x":120,"y":3.37e5},{"s":"a","x":140,"y":2.32e5},{"s":"a","x":160,"y":1.67e5},
{"s":"b","x":20,"y":3.48e7},{"s":"b","x":25,"y":2.02e7},{"s":"b","x":30,"y":1.30e7},{"s":"b","x":35,"y":8.91e6},{"s":"b","x":40,"y":6.44e6},{"s":"b","x":50,"y":3.74e6},{"s":"b","x":60,"y":2.40e6},{"s":"b","x":80,"y":1.19e6},{"s":"b","x":100,"y":6.90e5},{"s":"b","x":120,"y":4.43e5},{"s":"b","x":140,"y":3.04e5},{"s":"b","x":160,"y":2.20e5},
{"s":"c","x":20,"y":4.58e7},{"s":"c","x":25,"y":2.66e7},{"s":"c","x":30,"y":1.71e7},{"s":"c","x":35,"y":1.17e7},{"s":"c","x":40,"y":8.47e6},{"s":"c","x":50,"y":4.92e6},{"s":"c","x":60,"y":3.16e6},{"s":"c","x":80,"y":1.56e6},{"s":"c","x":100,"y":9.08e5},{"s":"c","x":120,"y":5.82e5},{"s":"c","x":140,"y":4.00e5},{"s":"c","x":160,"y":2.89e5},
{"s":"d","x":20,"y":6.03e7},{"s":"d","x":25,"y":3.50e7},{"s":"d","x":30,"y":2.24e7},{"s":"d","x":35,"y":1.54e7},{"s":"d","x":40,"y":1.11e7},{"s":"d","x":50,"y":6.47e6},{"s":"d","x":60,"y":4.15e6},{"s":"d","x":80,"y":2.06e6},{"s":"d","x":100,"y":1.19e6},{"s":"d","x":120,"y":7.65e5},{"s":"d","x":140,"y":5.26e5},{"s":"d","x":160,"y":3.80e5},
{"s":"e","x":20,"y":7.41e7},{"s":"e","x":25,"y":4.30e7},{"s":"e","x":30,"y":2.76e7},{"s":"e","x":35,"y":1.90e7},{"s":"e","x":40,"y":1.37e7},{"s":"e","x":50,"y":7.96e6},{"s":"e","x":60,"y":5.11e6},{"s":"e","x":80,"y":2.53e6},{"s":"e","x":100,"y":1.47e6},{"s":"e","x":120,"y":9.42e5},{"s":"e","x":140,"y":6.47e5},{"s":"e","x":160,"y":4.68e5},
{"s":"f","x":20,"y":1.04e8},{"s":"f","x":25,"y":6.04e7},{"s":"f","x":30,"y":3.87e7},{"s":"f","x":35,"y":2.66e7},{"s":"f","x":40,"y":1.92e7},{"s":"f","x":50,"y":1.12e7},{"s":"f","x":60,"y":7.16e6},{"s":"f","x":80,"y":3.55e6},{"s":"f","x":100,"y":2.06e6},{"s":"f","x":120,"y":1.32e6},{"s":"f","x":140,"y":9.08e5},{"s":"f","x":160,"y":6.56e5},
{"s":"g","x":20,"y":2.99e7},{"s":"g","x":25,"y":1.73e7},{"s":"g","x":30,"y":1.11e7},{"s":"g","x":35,"y":7.64e6},{"s":"g","x":40,"y":5.52e6},{"s":"g","x":50,"y":3.21e6},{"s":"g","x":60,"y":2.06e6},{"s":"g","x":80,"y":1.02e6},{"s":"g","x":100,"y":5.92e5},{"s":"g","x":120,"y":3.79e5},{"s":"g","x":140,"y":2.61e5},{"s":"g","x":160,"y":1.88e5},
{"s":"i","x":20,"y":6.52e7},{"s":"i","x":25,"y":3.79e7},{"s":"i","x":30,"y":2.43e7},{"s":"i","x":35,"y":1.67e7},{"s":"i","x":40,"y":1.21e7},{"s":"i","x":50,"y":7.00e6},{"s":"i","x":60,"y":4.49e6},{"s":"i","x":80,"y":2.22e6},{"s":"i","x":100,"y":1.29e6},{"s":"i","x":120,"y":8.28e5},{"s":"i","x":140,"y":5.69e5},{"s":"i","x":160,"y":4.11e5},
{"s":"j","x":20,"y":8.55e7},{"s":"j","x":25,"y":4.96e7},{"s":"j","x":30,"y":3.18e7},{"s":"j","x":35,"y":2.19e7},{"s":"j","x":40,"y":1.58e7},{"s":"j","x":50,"y":9.18e6},{"s":"j","x":60,"y":5.89e6},{"s":"j","x":80,"y":2.92e6},{"s":"j","x":100,"y":1.69e6},{"s":"j","x":120,"y":1.09e6},{"s":"j","x":140,"y":7.46e5},{"s":"j","x":160,"y":5.39e5}]
},
"spacing":30.3,
"vconcat":[
{"spacing":38.7,"hconcat":[
{"width":414.3,"height":302.6,"title":{"text":"Training Datasets via Random Sampling"},
"encoding":{"x":{"field":"x","type":"quantitative","scale":{"domain":[13,167],"nice":false,"zero":false},"axis":{"values":[25,50,75,100,125,150],"title":"Frequency(MHz)"}},
"y":{"field":"y","type":"quantitative","scale":{"domain":[-289.6,43.2],"nice":false,"zero":false},"axis":{"values":[-250,-200,-150,-100,-50,0],"title":"T₂₁ (mK)"}}},
"layer":[
{"data":{"name":"e1"},"mark":{"type":"area","interpolate":"monotone","color":"#f0f0f0"},"encoding":{"y":{"field":"L","type":"quantitative","title":"T₂₁ (mK)"},"y2":{"field":"U"}}},
{"data":{"name":"e1"},"mark":{"type":"area","interpolate":"monotone","color":"#dadada"},"encoding":{"y":{"field":"M","type":"quantitative","title":"T₂₁ (mK)"},"y2":{"field":"U"}}},
{"data":{"name":"tl"},"mark":{"type":"line","interpolate":"monotone","color":"#e6e6e6","strokeWidth":2},"encoding":{"detail":{"field":"s","type":"nominal"}}},
{"data":{"name":"e1"},"mark":{"type":"area","interpolate":"monotone","color":"#adadad"},"encoding":{"y":{"field":"D","type":"quantitative","title":"T₂₁ (mK)"},"y2":{"field":"U"}}},
{"data":{"name":"e1"},"mark":{"type":"area","interpolate":"monotone","color":"#8f8f8f"},"encoding":{"y":{"field":"B","type":"quantitative","title":"T₂₁ (mK)"},"y2":{"field":"U"}}},
{"data":{"name":"c1"},"mark":{"type":"line","interpolate":"monotone","strokeWidth":2.4},"encoding":{"color":{"field":"s","type":"nominal","scale":{"domain":["a","b","c","d","e","f","g","h","i","j","k","l"],"range":["#1f77b4","#ff7f0e","#2ca02c","#d62728","#9467bd","#8c564b","#e377c2","#7f7f7f","#bcbd22","#17becf","#1f77b4","#ff7f0e"]},"legend":null}}},
{"data":{"name":"cs"},"mark":{"type":"line","interpolate":"monotone","color":"#ff7f0e","strokeWidth":2.4},"encoding":{}}
]},
{"width":405.3,"height":302.6,"title":{"text":"LHS-based Training Dataset"},
"encoding":{"x":{"field":"x","type":"quantitative","scale":{"domain":[13,163.7],"nice":false,"zero":false},"axis":{"values":[25,50,75,100,125,150],"title":"Frequency(MHz)"}},
"y":{"field":"y","type":"quantitative","scale":{"domain":[-295.5,43.2],"nice":false,"zero":false},"axis":{"values":[-250,-200,-150,-100,-50,0],"title":"T₂₁ (mK)"}}},
"layer":[
{"data":{"name":"e2"},"mark":{"type":"area","interpolate":"monotone","color":"#f0f0f0"},"encoding":{"y":{"field":"L","type":"quantitative","title":"T₂₁ (mK)"},"y2":{"field":"U"}}},
{"data":{"name":"e2"},"mark":{"type":"area","interpolate":"monotone","color":"#dadada"},"encoding":{"y":{"field":"M","type":"quantitative","title":"T₂₁ (mK)"},"y2":{"field":"U"}}},
{"data":{"name":"tl"},"mark":{"type":"line","interpolate":"monotone","color":"#e6e6e6","strokeWidth":2},"encoding":{"detail":{"field":"s","type":"nominal"}}},
{"data":{"name":"e2"},"mark":{"type":"area","interpolate":"monotone","color":"#adadad"},"encoding":{"y":{"field":"D","type":"quantitative","title":"T₂₁ (mK)"},"y2":{"field":"U"}}},
{"data":{"name":"e2"},"mark":{"type":"area","interpolate":"monotone","color":"#8f8f8f"},"encoding":{"y":{"field":"B","type":"quantitative","title":"T₂₁ (mK)"},"y2":{"field":"U"}}},
{"data":{"name":"c2"},"mark":{"type":"line","interpolate":"monotone","strokeWidth":2.4},"encoding":{"color":{"field":"s","type":"nominal","scale":{"domain":["a","b","c","d","e","f","g","h","i","j","k","l"],"range":["#1f77b4","#ff7f0e","#2ca02c","#d62728","#9467bd","#8c564b","#e377c2","#7f7f7f","#bcbd22","#17becf","#1f77b4","#ff7f0e"]},"legend":null}}},
{"data":{"name":"cs"},"mark":{"type":"line","interpolate":"monotone","color":"#ff7f0e","strokeWidth":2.4},"encoding":{}}
]}
]},
{"spacing":38.7,"hconcat":[
{"spacing":6,"vconcat":[
{"width":414.3,"height":1,"title":{"text":"HSS-based Training Dataset","offset":-3.4},"view":{"stroke":null},"data":{"values":[]},"mark":"point","encoding":{}},
{"width":414.3,"height":302.7,
"encoding":{"x":{"field":"x","type":"quantitative","scale":{"domain":[13,167],"nice":false,"zero":false},"axis":{"values":[25,50,75,100,125,150],"title":"Frequency(MHz)"}},
"y":{"field":"y","type":"quantitative","scale":{"domain":[-297,43.5],"nice":false,"zero":false},"axis":{"values":[-250,-200,-150,-100,-50,0],"title":"T₂₁ (mK)"}}},
"layer":[
{"data":{"name":"e3"},"mark":{"type":"area","interpolate":"monotone","color":"#f0f0f0"},"encoding":{"y":{"field":"L","type":"quantitative","title":"T₂₁ (mK)"},"y2":{"field":"U"}}},
{"data":{"name":"e3"},"mark":{"type":"area","interpolate":"monotone","color":"#dadada"},"encoding":{"y":{"field":"M","type":"quantitative","title":"T₂₁ (mK)"},"y2":{"field":"U"}}},
{"data":{"name":"tl"},"mark":{"type":"line","interpolate":"monotone","color":"#e6e6e6","strokeWidth":2},"encoding":{"detail":{"field":"s","type":"nominal"}}},
{"data":{"name":"e3"},"mark":{"type":"area","interpolate":"monotone","color":"#adadad"},"encoding":{"y":{"field":"D","type":"quantitative","title":"T₂₁ (mK)"},"y2":{"field":"U"}}},
{"data":{"name":"e3"},"mark":{"type":"area","interpolate":"monotone","color":"#8f8f8f"},"encoding":{"y":{"field":"B","type":"quantitative","title":"T₂₁ (mK)"},"y2":{"field":"U"}}},
{"data":{"name":"c3"},"mark":{"type":"line","interpolate":"monotone","strokeWidth":2.4},"encoding":{"color":{"field":"s","type":"nominal","scale":{"domain":["a","b","c","d","e","f","g","h","i","j","k","l"],"range":["#1f77b4","#ff7f0e","#2ca02c","#d62728","#9467bd","#8c564b","#e377c2","#7f7f7f","#bcbd22","#17becf","#1f77b4","#ff7f0e"]},"legend":null}}},
{"data":{"name":"cs"},"mark":{"type":"line","interpolate":"monotone","color":"#ff7f0e","strokeWidth":2.4},"encoding":{}}
]}]},
{"vconcat":[
{"width":413,"height":307.7,
"encoding":{"x":{"field":"x","type":"quantitative","scale":{"domain":[13,164.1],"nice":false,"zero":false},"axis":{"values":[25,50,75,100,125,150],"title":"Frequency(MHz)","titleFontSize":22,"titlePadding":10}},
"y":{"field":"y","type":"quantitative","scale":{"type":"log","domain":[123600,166000000],"nice":false},"axis":{"values":[200000,300000,400000,500000,600000,700000,800000,900000,1000000,2000000,3000000,4000000,5000000,6000000,7000000,8000000,9000000,10000000,20000000,30000000,40000000,50000000,60000000,70000000,80000000,90000000,100000000],"labelExpr":"datum.value == 1000000 ? '10⁶' : datum.value == 10000000 ? '10⁷' : datum.value == 100000000 ? '10⁸' : ''","tickSize":{"condition":{"test":"datum.value == 1000000 || datum.value == 10000000 || datum.value == 100000000","value":6},"value":3.5},"labelPadding":9,"title":"Tₛₖᵧ =(T₂₁ + Tꜰɢ) (mK)","titleFontSize":22,"titlePadding":11}}},
"layer":[
{"data":{"name":"b4"},"mark":{"type":"area","interpolate":"monotone","color":"#808080"},"encoding":{"y2":{"field":"U"}}},
{"data":{"name":"c4"},"mark":{"type":"line","interpolate":"monotone","strokeWidth":2.4},"encoding":{"color":{"field":"s","type":"nominal","scale":{"domain":["a","b","c","d","e","f","g","h","i","j","k","l"],"range":["#1f77b4","#ff7f0e","#2ca02c","#d62728","#9467bd","#8c564b","#e377c2","#7f7f7f","#bcbd22","#17becf","#1f77b4","#ff7f0e"]},"legend":null}}}
]}]}
]}
]
}
